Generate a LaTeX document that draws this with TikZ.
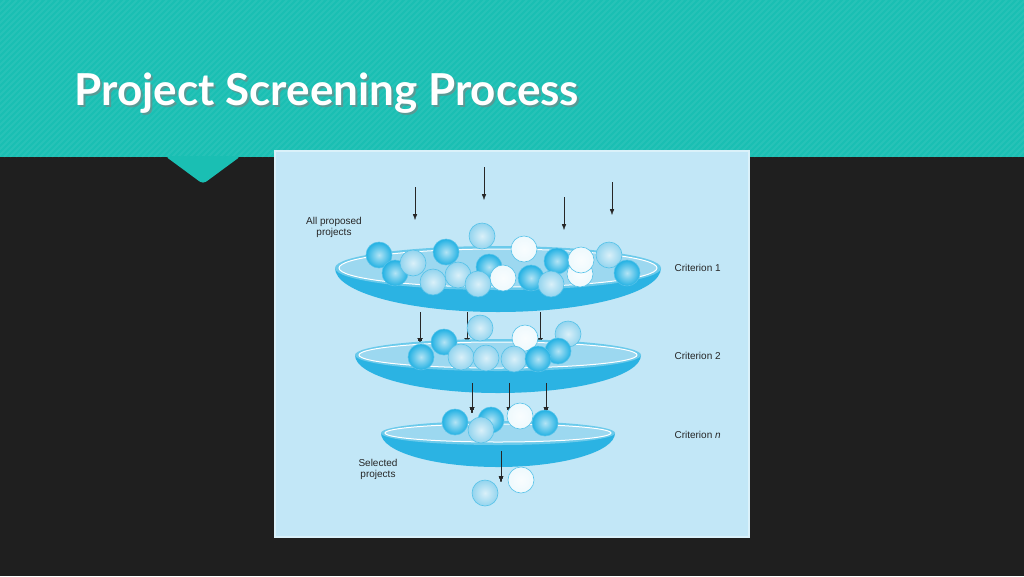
\documentclass[tikz,border=0pt]{standalone}
\usepackage{fontspec}
\setmainfont{Liberation Sans}
\newfontfamily\titlefont{Lato}
\usetikzlibrary{positioning,arrows.meta}
\definecolor{bgdark}{HTML}{1F1F1F}
\definecolor{teal}{HTML}{1ABFB3}
\definecolor{panel}{HTML}{C2E7F7}
\definecolor{rimblue}{HTML}{2BB3E3}
\definecolor{dishtop}{HTML}{9CD8F0}
\definecolor{balldark}{HTML}{22B1E3}
\definecolor{ballmid}{HTML}{93D4EE}
\definecolor{balllight}{HTML}{EEF9FD}
\tikzset{
  lbl/.style={font=\fontsize{10}{11}\selectfont, align=center, text=black!85},
  drop/.style={-{Latex[length=6pt,width=4.5pt]}, thin, black!85}
}
\newcommand\dish[4]{% x, y, rx, ry
  \fill[rimblue] (#1-#3,#2) arc[start angle=180,end angle=0,x radius=#3,y radius=#4+22] -- cycle;
  \fill[rimblue!70!white] (#1,#2) ellipse[x radius=#3,y radius=#4];
  \draw[white, line width=1pt, fill=dishtop] (#1,#2) ellipse[x radius=#3-4,y radius=#4-3];
}
\newcommand\ballat[3]{% x, y, colour
  \shade[draw=rimblue!80!white, line width=0.6pt, inner color=#3!35!white, outer color=#3] (#1,#2) circle[radius=13];
}
\begin{document}
\begin{tikzpicture}[x=1pt,y=-1pt]
  \useasboundingbox (0,0) rectangle (1024,576);
  \fill[bgdark] (0,0) rectangle (1024,576);
  \fill[teal] (0,0) rectangle (1024,157);
  \foreach \i in {-200,-194,...,1024}
    \draw[white, opacity=0.06, line width=2pt] (\i,157) -- (\i+157,0);
  \fill[teal, rounded corners=4pt] (165,156) -- (203,184) -- (241,156) -- cycle;
  \node[anchor=west, text=black!50, opacity=0.6, font=\titlefont\bfseries\fontsize{44}{48}\selectfont] at (73,95) {Project Screening Process};
  \node[anchor=west, text=white, font=\titlefont\bfseries\fontsize{44}{48}\selectfont] (title) at (71,93) {Project Screening Process};
  % picture panel
  \fill[panel] (274,150) rectangle (750,538);
  \draw[panel!60!white, line width=1.5pt] (275,151) rectangle (749,537);
  % arrows from above
  \foreach \x/\a/\b in {415/187/220, 484/167/200, 564/197/230, 612/182/215}
    \draw[drop] (\x,\a) -- (\x,\b);
  % criterion 1
  \dish{498}{268}{163}{22}
  \foreach \x/\y/\c in {379/255/balldark, 482/236/ballmid, 524/249/balllight, 446/252/balldark,
      609/255/ballmid, 395/273/balldark, 413/263/ballmid, 489/267/balldark, 557/261/balldark,
      580/274/balllight, 581/260/balllight, 627/273/balldark, 458/275/ballmid, 433/282/ballmid,
      531/278/balldark, 503/278/balllight, 478/284/ballmid, 551/284/ballmid}
    \ballat{\x}{\y}{\c}
  \foreach \x in {420,467,540}
    \draw[drop] (\x,312) -- (\x,344);
  % criterion 2
  \dish{498}{355}{143}{16}
  \foreach \x/\y/\c in {480/328/ballmid, 525/338/balllight, 568/334/ballmid, 558/351/balldark,
      444/342/balldark, 421/357/balldark, 461/357/ballmid, 486/358/ballmid, 514/359/ballmid,
      538/359/balldark}
    \ballat{\x}{\y}{\c}
  \foreach \x in {472,509,546}
    \draw[drop] (\x,383) -- (\x,413);
  % criterion n
  \dish{498}{433}{117}{12}
  \foreach \x/\y/\c in {491/420/balldark, 455/422/balldark, 520/416/balllight, 545/423/balldark,
      481/430/ballmid}
    \ballat{\x}{\y}{\c}
  \draw[drop] (501,451) -- (501,482);
  \ballat{485}{493}{ballmid}
  \ballat{521}{480}{balllight}
  % labels
  \node[lbl] (all) at (334,227) {All proposed\\projects};
  \node[lbl] (sel) at (378,469) {Selected\\projects};
  \node[lbl, anchor=west] (c1) at (671,268) {Criterion 1};
  \node[lbl, anchor=west] (c2) at (671,356) {Criterion 2};
  \node[lbl, anchor=west] (cn) at (671,435) {Criterion \textit{n}};
\end{tikzpicture}
\end{document}
